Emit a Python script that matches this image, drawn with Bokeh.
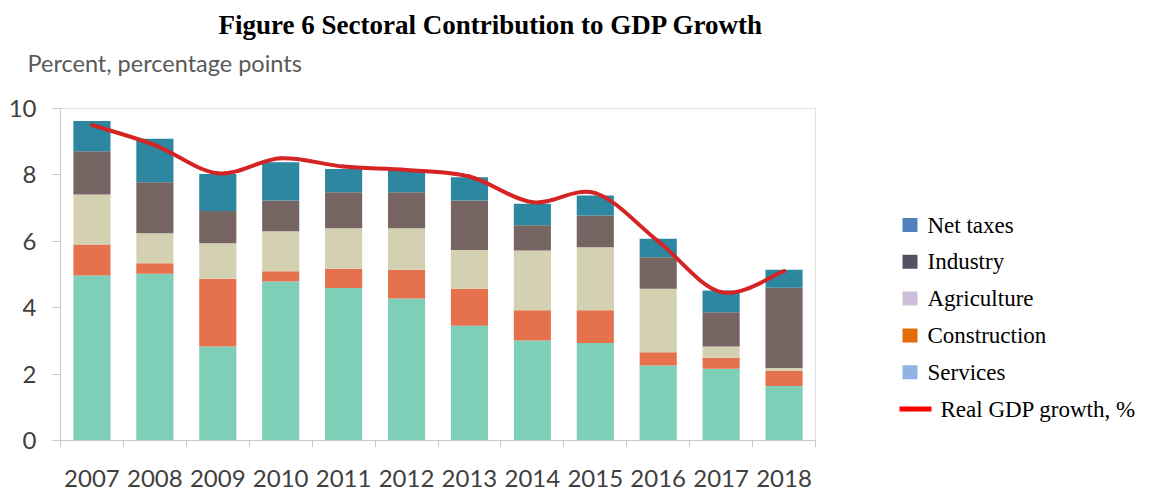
from bokeh.plotting import figure
from bokeh.models import Range1d, FixedTicker, Title, ColumnDataSource
from bokeh.layouts import row
from bokeh.embed import file_html
from bokeh.resources import INLINE
from bokeh.core.properties import value

# ---------------- data ----------------
years = ["2007", "2008", "2009", "2010", "2011", "2012",
         "2013", "2014", "2015", "2016", "2017", "2018"]
services = [4.97, 5.02, 2.83, 4.79, 4.59, 4.28, 3.46, 3.01, 2.94, 2.26, 2.16, 1.64]
construction = [0.93, 0.32, 2.04, 0.31, 0.58, 0.86, 1.11, 0.91, 0.98, 0.40, 0.33, 0.45]
agriculture = [1.51, 0.90, 1.07, 1.20, 1.22, 1.25, 1.17, 1.80, 1.90, 1.91, 0.34, 0.09]
industry = [1.30, 1.54, 0.97, 0.93, 1.09, 1.09, 1.49, 0.76, 0.96, 0.95, 1.03, 2.42]
net_taxes = [0.91, 1.31, 1.12, 1.15, 0.70, 0.65, 0.70, 0.65, 0.60, 0.56, 0.66, 0.54]
gdp_growth = [9.5, 8.9, 8.05, 8.5, 8.25, 8.15, 7.95, 7.18, 7.45, 6.0, 4.47, 5.1]
y_ticks = [0, 2, 4, 6, 8, 10]

stack_names = ["services", "construction", "agriculture", "industry", "net_taxes"]
bar_colors = ["#7dcfb7", "#e6714d", "#d4d1b3", "#766563", "#2d87a1"]

legend_labels = ["Net taxes", "Industry", "Agriculture", "Construction", "Services"]
legend_colors = ["#4f81bd", "#575061", "#ccc0da", "#e46c0a", "#8db4e2"]
line_label = "Real GDP growth, %"

TITLE = "Figure 6 Sectoral Contribution to GDP Growth"
UNITS = "Percent, percentage points"

AX_FONT = "Lato"
TXT_COLOR = "#404040"

# ---------------- main chart ----------------
xs = list(range(len(years)))
src = ColumnDataSource(dict(x=xs, services=services, construction=construction,
                            agriculture=agriculture, industry=industry,
                            net_taxes=net_taxes))

p = figure(width=830, height=495, output_backend="svg", toolbar_location=None,
           x_range=Range1d(-0.5, len(years) - 0.5), y_range=Range1d(0, 10),
           min_border_left=60, min_border_right=15, min_border_top=108,
           min_border_bottom=55, title=None)
p.outline_line_color = "#e4e4e4"
p.background_fill_color = "white"
p.border_fill_color = "white"
p.grid.visible = False

p.vbar_stack(stack_names, x="x", width=0.59, color=bar_colors, source=src,
             line_color=None)

# smooth GDP line (Catmull-Rom style bezier through the data points)
n = len(gdp_growth)
X0, Y0, X1, Y1, CX0, CY0, CX1, CY1 = [], [], [], [], [], [], [], []
for i in range(n - 1):
    xm, ym = xs[max(i - 1, 0)], gdp_growth[max(i - 1, 0)]
    xa, ya = xs[i], gdp_growth[i]
    xb, yb = xs[i + 1], gdp_growth[i + 1]
    xp, yp = xs[min(i + 2, n - 1)], gdp_growth[min(i + 2, n - 1)]
    X0.append(xa); Y0.append(ya); X1.append(xb); Y1.append(yb)
    CX0.append(xa + (xb - xm) / 6); CY0.append(ya + (yb - ym) / 6)
    CX1.append(xb - (xp - xa) / 6); CY1.append(yb - (yp - ya) / 6)
p.bezier(x0=X0, y0=Y0, x1=X1, y1=Y1, cx0=CX0, cy0=CY0, cx1=CX1, cy1=CY1,
         line_color="#d42424", line_width=4, line_cap="round")

# x axis: labels at category centres, tick marks at boundaries
xa_ = p.xaxis[0]
xa_.ticker = FixedTicker(ticks=xs, minor_ticks=[i - 0.5 for i in range(len(years) + 1)])
xa_.major_label_overrides = {i: y for i, y in enumerate(years)}
xa_.major_tick_out = 0
xa_.major_tick_in = 0
xa_.minor_tick_out = 7
xa_.minor_tick_in = 0
xa_.minor_tick_line_color = "#c8c8c8"
xa_.axis_line_color = "#c8c8c8"
xa_.major_label_text_font = AX_FONT
xa_.major_label_text_font_size = "24px"
xa_.major_label_text_color = TXT_COLOR
xa_.major_label_standoff = 22

ya_ = p.yaxis[0]
ya_.ticker = FixedTicker(ticks=y_ticks)
ya_.major_tick_out = 8
ya_.major_tick_in = 0
ya_.minor_tick_line_color = None
ya_.major_tick_line_color = "#c8c8c8"
ya_.axis_line_color = "#c8c8c8"
ya_.major_label_text_font = AX_FONT
ya_.major_label_text_font_size = "24px"
ya_.major_label_text_color = TXT_COLOR
ya_.major_label_standoff = 16

# titles: first added sits closest to the frame (a tiny blank one is a spacer)
p.add_layout(Title(text=" ", standoff=28.5, text_font_size="1px"), "above")
p.add_layout(Title(text=UNITS, align="left", offset=-33, standoff=0,
                   text_font=AX_FONT, text_font_size="23.5px",
                   text_font_style="normal", text_color="#595959"), "above")
p.add_layout(Title(text=TITLE, align="left", offset=158, standoff=12.5,
                   text_font="Liberation Serif", text_font_style="bold",
                   text_font_size="27px", text_color="black"), "above")

# ---------------- legend panel (pixel coordinates of the canvas) ----------------
lg = figure(width=327, height=495, output_backend="svg", toolbar_location=None,
            x_range=Range1d(0, 327), y_range=Range1d(440, 108),
            min_border_left=0, min_border_right=0, min_border_top=108,
            min_border_bottom=55, title=None)
lg.axis.visible = False
lg.grid.visible = False
lg.outline_line_color = None

row_y0, row_step = 224.5, 36.8
ys = [row_y0 + i * row_step for i in range(len(legend_labels))]
lg.rect(x=[79.5] * len(ys), y=ys, width=15, height=14, width_units="screen",
        height_units="screen", fill_color=legend_colors, line_color=None)
lg.text(x=[97] * len(ys), y=ys, text=legend_labels, text_font=value("Liberation Serif"),
        text_font_size="23px", text_baseline="middle", text_color="black")
y_line = row_y0 + len(legend_labels) * row_step
lg.line(x=[69, 101], y=[y_line, y_line], line_color="#ff0000", line_width=5)
lg.text(x=[110], y=[y_line], text=[line_label], text_font=value("Liberation Serif"),
        text_font_size="23px", text_baseline="middle", text_color="black")

layout = row(p, lg)
open("out.html", "w").write(file_html(layout, INLINE))
